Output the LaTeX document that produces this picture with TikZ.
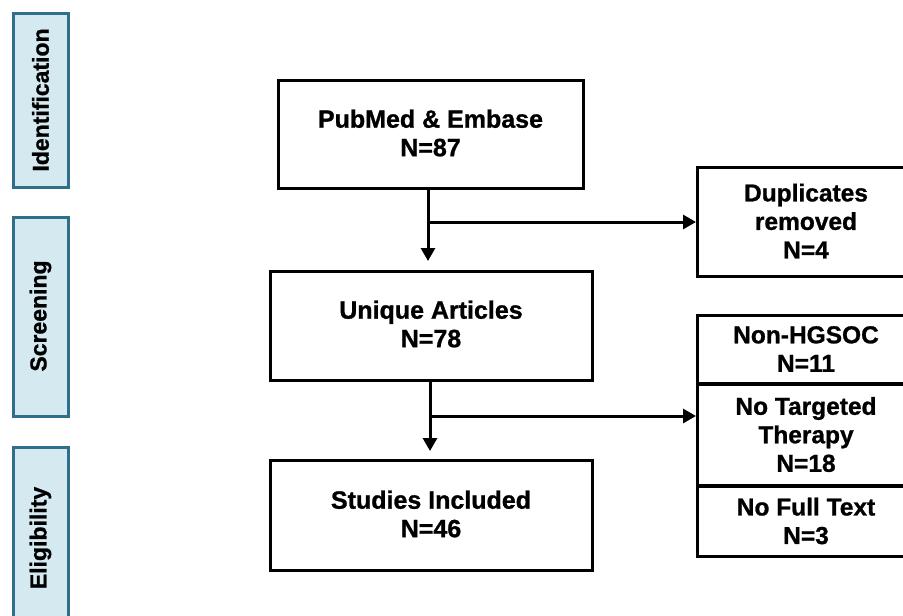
\documentclass[tikz,border=0pt]{standalone}
\usepackage{fontspec}
\setmainfont[BoldFeatures={FakeBold=1}]{Liberation Sans}
\usetikzlibrary{arrows.meta}
\definecolor{phasefill}{HTML}{D5E9F1}
\definecolor{phaseline}{HTML}{2F6F8C}
\begin{document}
\begin{tikzpicture}[x=1pt,y=-1pt,
  phase/.style={draw=phaseline,fill=phasefill,line width=3pt},
  phasetext/.style={rotate=90,font=\fontsize{23}{26}\selectfont\bfseries},
  mainbox/.style={draw=black,line width=3pt,fill=white},
  boxtext/.style={align=center,font=\fontsize{25}{28.5}\selectfont\bfseries},
  sidetext/.style={align=center,font=\fontsize{24.5}{28.5}\selectfont\bfseries},
  arr/.style={line width=3pt,-{Triangle[length=13pt,width=14pt]}}]
\useasboundingbox (0,0) rectangle (903,616);
% phases
\draw[phase] (13,13) rectangle (68,187);
\node[phasetext] (idt) at (40.5,100) {Identification};
\draw[phase] (13,217) rectangle (68,416);
\node[phasetext] (scr) at (40.5,316) {Screening};
\draw[phase] (13,447) rectangle (68,630);
\node[phasetext] (elg) at (40.5,538) {Eligibility};
% main boxes
\draw[mainbox] (278,80) rectangle (583,188);
\node[boxtext] (pub) at (430.5,133) {PubMed \& Embase\\N=87};
\coordinate (pubS) at (428,188);
\draw[mainbox] (270,271) rectangle (592,380);
\node[boxtext] (uni) at (431,324) {Unique Articles\\N=78};
\draw[mainbox] (270,460) rectangle (592,570);
\node[boxtext] (stu) at (431,514) {Studies Included\\N=46};
% right boxes
\draw[mainbox] (697,167) rectangle (915,276);
\node[sidetext] (dup) at (806,221) {Duplicates\\removed\\N=4};
\draw[mainbox] (697,315) rectangle (915,383);
\node[sidetext] (non) at (806,349) {Non-HGSOC\\N=11};
\draw[mainbox] (697,384) rectangle (915,485);
\node[sidetext] (tar) at (806,434.5) {No Targeted\\Therapy\\N=18};
\draw[mainbox] (697,486) rectangle (915,556);
\node[sidetext] (ful) at (806,521) {No Full Text\\N=3};
% arrows
\coordinate (j1) at (428,222);
\coordinate (d1) at (428,261);
\coordinate (r1) at (696,222);
\draw[line width=3pt] (pubS) -- (j1);
\draw[arr] (j1) -- (d1);
\draw[arr] (j1) -- (r1);
\coordinate (uniS) at (430,380);
\coordinate (j2) at (430,416);
\coordinate (d2) at (430,451);
\coordinate (r2) at (696,416);
\draw[line width=3pt] (uniS) -- (j2);
\draw[arr] (j2) -- (d2);
\draw[arr] (j2) -- (r2);
\end{tikzpicture}
\end{document}
